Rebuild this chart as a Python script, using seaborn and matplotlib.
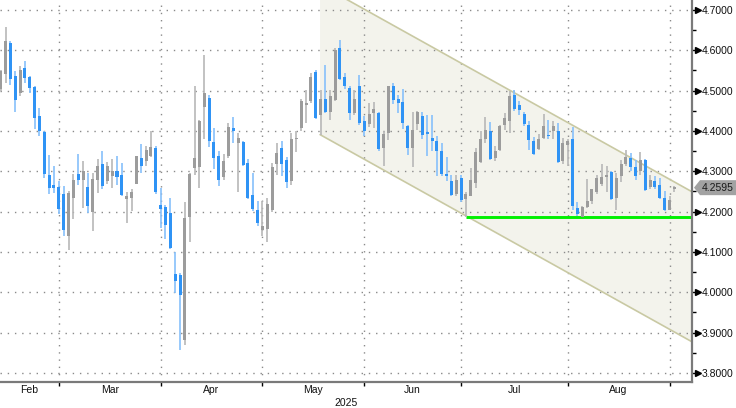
import numpy as np
import matplotlib
matplotlib.use("Agg")
import matplotlib.pyplot as plt
import seaborn as sns
from matplotlib.patches import Polygon
from matplotlib.transforms import blended_transform_factory, offset_copy

# ---------------- data (US 10Y yield, daily OHLC, 11 Feb - 2 Sep 2025) ----------------
opens = [4.505, 4.541, 4.617, 4.537, 4.493, 4.556, 4.534, 4.509, 4.436, 4.398,
         4.292, 4.267, 4.261, 4.245, 4.139, 4.234, 4.294, 4.278, 4.260, 4.198,
         4.279, 4.318, 4.275, 4.288, 4.300, 4.292, 4.232, 4.235, 4.269, 4.333,
         4.325, 4.337, 4.359, 4.217, 4.211, 4.197, 4.046, 4.044, 3.883, 4.186,
         4.308, 4.310, 4.459, 4.482, 4.372, 4.337, 4.286, 4.337, 4.408, 4.370,
         4.372, 4.321, 4.242, 4.205, 4.155, 4.158, 4.205, 4.319, 4.359, 4.329,
         4.275, 4.379, 4.408, 4.465, 4.474, 4.546, 4.439, 4.480, 4.446, 4.478,
         4.606, 4.533, 4.507, 4.445, 4.511, 4.425, 4.418, 4.445, 4.445, 4.358,
         4.395, 4.512, 4.479, 4.472, 4.413, 4.358, 4.418, 4.436, 4.397, 4.383,
         4.374, 4.351, 4.294, 4.277, 4.245, 4.284, 4.232, 4.240, 4.271, 4.323,
         4.379, 4.401, 4.333, 4.354, 4.414, 4.424, 4.490, 4.465, 4.442, 4.416,
         4.376, 4.356, 4.383, 4.391, 4.399, 4.399, 4.325, 4.366, 4.380, 4.210,
         4.188, 4.212, 4.226, 4.248, 4.269, 4.286, 4.298, 4.234, 4.289, 4.317,
         4.333, 4.311, 4.302, 4.327, 4.261, 4.275, 4.267, 4.234, 4.205, 4.256]
highs = [4.552, 4.659, 4.622, 4.548, 4.560, 4.574, 4.536, 4.511, 4.457, 4.400,
         4.340, 4.312, 4.277, 4.263, 4.252, 4.294, 4.343, 4.326, 4.297, 4.297,
         4.331, 4.351, 4.322, 4.331, 4.337, 4.321, 4.248, 4.255, 4.339, 4.368,
         4.362, 4.399, 4.362, 4.259, 4.217, 4.234, 4.099, 4.048, 4.223, 4.296,
         4.512, 4.428, 4.589, 4.490, 4.408, 4.351, 4.343, 4.420, 4.435, 4.395,
         4.375, 4.330, 4.296, 4.226, 4.226, 4.235, 4.320, 4.370, 4.376, 4.336,
         4.395, 4.399, 4.480, 4.502, 4.545, 4.550, 4.502, 4.564, 4.502, 4.607,
         4.626, 4.545, 4.511, 4.502, 4.540, 4.436, 4.470, 4.472, 4.446, 4.401,
         4.512, 4.520, 4.490, 4.504, 4.416, 4.446, 4.450, 4.446, 4.440, 4.440,
         4.387, 4.370, 4.336, 4.292, 4.292, 4.290, 4.248, 4.308, 4.358, 4.399,
         4.434, 4.422, 4.362, 4.415, 4.445, 4.498, 4.502, 4.475, 4.447, 4.424,
         4.385, 4.393, 4.442, 4.428, 4.424, 4.420, 4.383, 4.380, 4.410, 4.225,
         4.215, 4.281, 4.257, 4.290, 4.319, 4.312, 4.302, 4.296, 4.329, 4.354,
         4.345, 4.327, 4.347, 4.330, 4.292, 4.288, 4.284, 4.250, 4.240, 4.264]
lows = [4.500, 4.519, 4.515, 4.446, 4.488, 4.519, 4.493, 4.406, 4.388, 4.284,
        4.245, 4.246, 4.193, 4.140, 4.106, 4.183, 4.265, 4.209, 4.197, 4.151,
        4.246, 4.257, 4.268, 4.259, 4.265, 4.240, 4.173, 4.201, 4.269, 4.297,
        4.314, 4.336, 4.245, 4.160, 4.133, 4.107, 3.998, 3.858, 3.870, 4.126,
        4.292, 4.259, 4.381, 4.360, 4.306, 4.263, 4.278, 4.333, 4.370, 4.248,
        4.312, 4.232, 4.201, 4.164, 4.139, 4.124, 4.200, 4.292, 4.289, 4.259,
        4.267, 4.347, 4.401, 4.421, 4.470, 4.430, 4.391, 4.445, 4.428, 4.475,
        4.526, 4.505, 4.428, 4.439, 4.416, 4.387, 4.410, 4.408, 4.350, 4.312,
        4.377, 4.466, 4.445, 4.405, 4.341, 4.311, 4.402, 4.379, 4.339, 4.350,
        4.289, 4.289, 4.277, 4.240, 4.240, 4.225, 4.187, 4.240, 4.259, 4.321,
        4.370, 4.329, 4.325, 4.350, 4.403, 4.395, 4.450, 4.440, 4.413, 4.352,
        4.341, 4.354, 4.380, 4.380, 4.380, 4.321, 4.317, 4.312, 4.205, 4.190,
        4.186, 4.210, 4.220, 4.245, 4.263, 4.248, 4.228, 4.203, 4.273, 4.314,
        4.300, 4.278, 4.292, 4.250, 4.256, 4.256, 4.231, 4.201, 4.203, 4.248]
closes = [4.548, 4.622, 4.530, 4.476, 4.552, 4.531, 4.506, 4.431, 4.399, 4.294,
          4.258, 4.259, 4.207, 4.155, 4.246, 4.279, 4.278, 4.302, 4.213, 4.281,
          4.314, 4.263, 4.314, 4.300, 4.285, 4.242, 4.238, 4.248, 4.337, 4.312,
          4.354, 4.360, 4.248, 4.207, 4.168, 4.110, 4.027, 3.994, 4.184, 4.293,
          4.333, 4.426, 4.493, 4.374, 4.333, 4.278, 4.326, 4.410, 4.401, 4.383,
          4.315, 4.234, 4.207, 4.172, 4.165, 4.220, 4.310, 4.345, 4.317, 4.273,
          4.381, 4.383, 4.474, 4.468, 4.535, 4.431, 4.480, 4.446, 4.488, 4.602,
          4.529, 4.511, 4.445, 4.479, 4.420, 4.399, 4.443, 4.455, 4.355, 4.393,
          4.511, 4.476, 4.470, 4.421, 4.358, 4.402, 4.447, 4.391, 4.393, 4.374,
          4.350, 4.294, 4.289, 4.242, 4.279, 4.228, 4.245, 4.279, 4.347, 4.380,
          4.402, 4.331, 4.351, 4.412, 4.432, 4.486, 4.455, 4.453, 4.418, 4.377,
          4.344, 4.380, 4.412, 4.387, 4.412, 4.322, 4.370, 4.376, 4.215, 4.195,
          4.212, 4.226, 4.255, 4.284, 4.286, 4.289, 4.231, 4.284, 4.319, 4.336,
          4.311, 4.289, 4.329, 4.253, 4.278, 4.261, 4.234, 4.203, 4.230, 4.2595]

month_labels = ['Feb', 'Mar', 'Apr', 'May', 'Jun', 'Jul', 'Aug']
month_end_idx = [12, 33, 54, 75, 95, 117, 138]     # last session of each month
year_label = '2025'
y_ticks = [3.8, 3.9, 4.0, 4.1, 4.2, 4.3, 4.4, 4.5, 4.6, 4.7]
y_minor = [3.85, 3.95, 4.05, 4.15, 4.25, 4.35, 4.45, 4.55, 4.65]
last_price = 4.2595
support_level = 4.186
support_start = 96
chan_x0 = 65.9
chan_upper0 = 4.763
chan_lower0 = 4.391
chan_slope = -0.006694

# ---------------- styling ----------------
sns.set_theme(style='white')
plt.rcParams['font.family'] = ['Liberation Sans', 'DejaVu Sans']

W, H = 736, 408
fig = plt.figure(figsize=(W / 100, H / 100), dpi=100)
fig.patch.set_facecolor('white')
ax_bottom_px = 381.7
ax_right_px = 692.3
ax = fig.add_axes([0, 1 - ax_bottom_px / H, ax_right_px / W, ax_bottom_px / H])
ax.set_facecolor('white')

xmin, xmax = -0.14, 142.7
ymin, ymax = 3.7784, 4.7248
ax.set_xlim(xmin, xmax)
ax.set_ylim(ymin, ymax)

# channel
cx = np.array([chan_x0, xmax])
up = chan_upper0 + chan_slope * (cx - chan_x0)
lo = chan_lower0 + chan_slope * (cx - chan_x0)
ax.add_patch(Polygon([(cx[0], up[0]), (cx[1], up[1]), (cx[1], lo[1]), (cx[0], lo[0])],
                     closed=True, facecolor='#f3f3ec', edgecolor='none', zorder=0.5))
sns.lineplot(x=cx, y=up, ax=ax, color='#c9c9a3', lw=1.2, zorder=1.5)
sns.lineplot(x=cx, y=lo, ax=ax, color='#c9c9a3', lw=1.2, zorder=1.5)

# dotted grid
dots = (0, (1.0, 4.2))
ax.hlines(y_ticks, xmin, xmax, colors='#8a8a8a', lw=1.0, linestyles=[dots], zorder=1)
ax.vlines(month_end_idx, ymin, ymax, colors='#8a8a8a', lw=1.0, linestyles=[dots], zorder=1)

# support line
ax.hlines(support_level, support_start, xmax, colors='#00f000', lw=2.1, zorder=2)

# candlesticks
o = np.array(opens); h = np.array(highs); l = np.array(lows); c = np.array(closes)
xi = np.arange(len(o))
upmask = c >= o
ax.vlines(xi[upmask], l[upmask], h[upmask], colors='#b8b8b8', lw=1.2, zorder=3)
ax.vlines(xi[~upmask], l[~upmask], h[~upmask], colors='#86c0fb', lw=1.2, zorder=3)
bot = np.minimum(o, c)
hgt = np.maximum(np.abs(c - o), 0.004)
ax.bar(xi[upmask], hgt[upmask], bottom=bot[upmask], width=0.62, color='#9c9c9c',
       linewidth=0, zorder=4)
ax.bar(xi[~upmask], hgt[~upmask], bottom=bot[~upmask], width=0.62, color='#2f93f5',
       linewidth=0, zorder=4)

# spines
for s in ['top', 'left']:
    ax.spines[s].set_visible(False)
for s in ['bottom', 'right']:
    ax.spines[s].set_visible(True)
    ax.spines[s].set_color('#7a7a7a')
    ax.spines[s].set_linewidth(1.6)

# y axis on right
ax.yaxis.tick_right()
ax.set_yticks(y_ticks)
ax.set_yticks(y_minor, minor=True)
ax.set_yticklabels([f'{v:.4f}' for v in y_ticks])
ax.tick_params(axis='y', which='major', length=5, width=1, color='black', pad=2,
               labelsize=7.5, labelcolor='#111111', right=True, left=False)
ax.tick_params(axis='y', which='minor', length=3, width=1, color='black', right=True, left=False)
tr = blended_transform_factory(ax.transAxes, ax.transData)
tr = offset_copy(tr, fig=fig, x=5.5, y=0, units='dots')
ax.plot([1.0] * len(y_ticks), y_ticks, linestyle='none', marker='>', markersize=4.2,
        color='black', transform=tr, clip_on=False, zorder=6)

# x axis
ax.set_xticks(month_end_idx)
ax.set_xticklabels([])
ax.tick_params(axis='x', which='major', length=3, width=1, color='black', bottom=True)
bounds = [xmin] + month_end_idx
for i, lab in enumerate(month_labels):
    mid = (bounds[i] + bounds[i + 1]) / 2
    ax.annotate(lab, xy=(mid, 0), xycoords=('data', 'axes fraction'),
                xytext=(0, -8.5), textcoords='offset pixels', ha='center', va='center',
                fontsize=7.5, color='#111111')
ax.annotate(year_label, xy=(0.5, 0), xycoords='axes fraction', xytext=(0, -21),
            textcoords='offset pixels', ha='center', va='center', fontsize=7.5, color='#111111')

# last price tag
fig.canvas.draw()
ypx = ax.transData.transform((0, last_price))[1]
hh = 7.5
pts = [(694, ypx), (700, ypx + hh), (W, ypx + hh), (W, ypx - hh), (700, ypx - hh)]
pts = [(px / W, py / H) for px, py in pts]
fig.patches.append(Polygon(pts, closed=True, transform=fig.transFigure,
                           facecolor='#a2a2a2', edgecolor='none', zorder=5))
fig.text(717.5 / W, ypx / H, f'{last_price:.4f}', ha='center', va='center',
         fontsize=7.5, color='#1a1a1a', zorder=6)

fig.savefig('out.png', dpi=100)
